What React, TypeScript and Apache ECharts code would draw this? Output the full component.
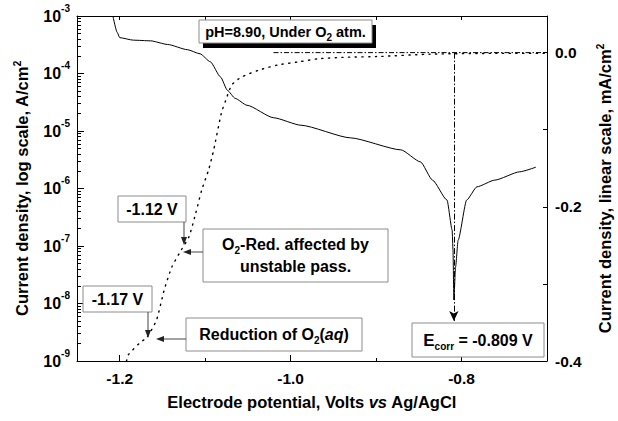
import React, { useEffect, useRef } from "react";
import * as echarts from "echarts";

const FONT = "'Liberation Sans', Arial, Helvetica, sans-serif";

// Solid curve: log-scale current density (A/cm2) vs potential (V vs Ag/AgCl)
const logPotential = [-1.208, -1.203, -1.2, -1.184, -1.164, -1.144, -1.121, -1.106, -1.094, -1.082, -1.074, -1.065, -1.051, -1.02, -0.988, -0.93, -0.871, -0.848, -0.834, -0.817, -0.811, -0.81, -0.809, -0.807, -0.804, -0.794, -0.782, -0.761, -0.732, -0.713];
const logCurrent = [1.0e-3, 5.2e-4, 4.2e-4, 3.8e-4, 3.7e-4, 3.2e-4, 2.6e-4, 2.2e-4, 1.6e-4, 8.7e-5, 5.1e-5, 3.7e-5, 2.8e-5, 1.7e-5, 1.26e-5, 7.6e-6, 4.7e-6, 2.9e-6, 1.4e-6, 6.3e-7, 1.9e-7, 8.5e-8, 1.15e-8, 4.3e-8, 1.26e-7, 6.3e-7, 1.07e-6, 1.4e-6, 1.95e-6, 2.35e-6];

// Dotted curve: linear-scale current density (mA/cm2)
const linPotential = [-1.192, -1.19, -1.177, -1.168, -1.157, -1.148, -1.139, -1.128, -1.119, -1.111, -1.104, -1.096, -1.09, -1.081, -1.076, -1.069, -1.058, -1.038, -1.015, -0.991, -0.968, -0.936, -0.896, -0.837, -0.76, -0.7];
const linCurrent = [-0.4, -0.392, -0.377, -0.369, -0.347, -0.308, -0.278, -0.256, -0.239, -0.208, -0.178, -0.152, -0.126, -0.078, -0.062, -0.042, -0.032, -0.023, -0.016, -0.012, -0.008, -0.006, -0.005, -0.002, -0.001, -0.001];

// Dash-dot baseline (linear scale)
const restPotential = [-1.02, -0.7];
const restCurrent = [0.0, 0.0];

// Corrosion potential marker
const ecorrPotential = -0.809;
const ecorrTop = 0.0;
const ecorrArrowTip = -0.348;

// Axis ticks / labels
const xRange = [-1.25, -0.7];
const xMajorTicks = [-1.2, -1.0, -0.8];
const xMinorTicks = [-1.1, -0.9];
const xTopTicks = [-1.2, -1.1, -1.0, -0.9, -0.8];
const logExpRange = [-9, -3];
const logMantissas = [2, 3, 4, 5, 6, 7, 8, 9];
const rightRange = [-0.4, 0.0475];
const rightMajorTicks = [-0.4, -0.2, 0.0];
const rightAllTicks = [-0.4, -0.3, -0.2, -0.1, 0.0];

const bold = (size: number, extra: any = {}) => ({
  fontFamily: FONT,
  fontWeight: "bold",
  fontSize: size,
  color: "#000",
  ...extra,
});

const gBox = (x: number, y: number, w: number, h: number) => ({
  type: "rect",
  shape: { x, y, width: w, height: h },
  style: { fill: "#fff", stroke: "#8c8c8c", lineWidth: 1 },
  z: 100,
  silent: true,
});
const gLine = (x1: number, y1: number, x2: number, y2: number) => ({
  type: "line",
  shape: { x1, y1, x2, y2 },
  style: { stroke: "#444", lineWidth: 1 },
  z: 100,
  silent: true,
});
const gArrowDown = (x: number, y: number) => ({
  type: "polygon",
  shape: { points: [[x, y], [x - 3, y - 8], [x + 3, y - 8]] },
  style: { fill: "#222" },
  z: 100,
  silent: true,
});
const gArrowLeft = (x: number, y: number) => ({
  type: "polygon",
  shape: { points: [[x, y], [x + 8, y - 3], [x + 8, y + 3]] },
  style: { fill: "#222" },
  z: 100,
  silent: true,
});
const richText = (size: number) => ({
  n: { fontFamily: FONT, fontWeight: "bold", fontSize: size, lineHeight: 22, fill: "#000" },
  s: { fontFamily: FONT, fontWeight: "bold", fontSize: 10, lineHeight: 10, verticalAlign: "bottom", fill: "#000" },
  i: { fontFamily: FONT, fontWeight: "bold", fontStyle: "italic", fontSize: size, lineHeight: 22, fill: "#000" },
  e: { fontFamily: FONT, fontWeight: "bold", fontSize: size + 1, lineHeight: 22, fill: "#000" },
  c: { fontFamily: FONT, fontWeight: "bold", fontSize: 10, lineHeight: 10, verticalAlign: "bottom", fill: "#000" },
});
const gText = (x: number, y: number, text: string, size = 16) => ({
  type: "text",
  x,
  y,
  z: 101,
  silent: true,
  style: {
    text,
    align: "center",
    verticalAlign: "middle",
    fontFamily: FONT,
    fontWeight: "bold",
    fontSize: size,
    fill: "#000",
    rich: richText(size),
  },
});

export default function App() {
  const ref = useRef<HTMLDivElement>(null);

  useEffect(() => {
    if (!ref.current) return;
    const chart = echarts.init(ref.current, undefined, { renderer: "svg" });

    const minorLogTicks: number[] = [];
    for (let p = logExpRange[0]; p < logExpRange[1]; p++) {
      logMantissas.forEach((m) => minorLogTicks.push(p + Math.log10(m)));
    }

    const axisLineStyle = { color: "#000", width: 1 };
    const NAME_SIZE = 16.5;

    const option: any = {
      animation: false,
      grid: { left: 77, right: 71, top: 16, bottom: 60, containLabel: false, outerBoundsMode: "none" },
      xAxis: [
        {
          type: "value",
          min: xRange[0],
          max: xRange[1],
          position: "bottom",
          axisLine: { onZero: false, lineStyle: axisLineStyle },
          axisTick: { inside: true, length: 6, customValues: xMajorTicks, lineStyle: axisLineStyle },
          axisLabel: {
            customValues: xMajorTicks,
            formatter: (v: number) => v.toFixed(1),
            margin: 9,
            ...bold(15.5),
          },
          splitLine: { show: false },
          name: "{n|Electrode potential, Volts }{i|vs}{n| Ag/AgCl}",
          nameLocation: "middle",
          nameGap: 32,
          nameTextStyle: {
            ...bold(NAME_SIZE),
            rich: {
              n: bold(NAME_SIZE),
              i: bold(NAME_SIZE, { fontStyle: "italic" }),
            },
          },
        },
        {
          type: "value",
          min: xRange[0],
          max: xRange[1],
          position: "bottom",
          axisLine: { show: false, onZero: false },
          axisTick: { inside: true, length: 3, customValues: xMinorTicks, lineStyle: axisLineStyle },
          axisLabel: { show: false },
          splitLine: { show: false },
        },
        {
          type: "value",
          min: xRange[0],
          max: xRange[1],
          position: "top",
          axisLine: { onZero: false, lineStyle: axisLineStyle },
          axisTick: { inside: true, length: 4, customValues: xTopTicks, lineStyle: axisLineStyle },
          axisLabel: { show: false },
          splitLine: { show: false },
        },
      ],
      yAxis: [
        {
          type: "log",
          logBase: 10,
          min: Math.pow(10, logExpRange[0]),
          max: Math.pow(10, logExpRange[1]),
          show: false,
          splitLine: { show: false },
        },
        {
          type: "value",
          min: rightRange[0],
          max: rightRange[1],
          position: "right",
          axisLine: { onZero: false, lineStyle: axisLineStyle },
          axisTick: { inside: true, length: 4, customValues: rightAllTicks, lineStyle: axisLineStyle },
          axisLabel: {
            customValues: rightMajorTicks,
            formatter: (v: number) => (Math.abs(v) < 1e-9 ? "0.0" : v.toFixed(1)),
            margin: 8,
            ...bold(15.5),
          },
          splitLine: { show: false },
          name: "{n|Current density, linear scale, mA/cm}{s|2}",
          nameLocation: "middle",
          nameRotate: 90,
          nameGap: 48,
          nameTextStyle: {
            ...bold(NAME_SIZE),
            rich: {
              n: bold(NAME_SIZE, { lineHeight: 19 }),
              s: bold(10, { lineHeight: 10, verticalAlign: "top" }),
            },
          },
        },
        {
          type: "value",
          min: logExpRange[0],
          max: logExpRange[1],
          interval: 1,
          position: "left",
          axisLine: { onZero: false, lineStyle: axisLineStyle },
          axisTick: { inside: true, length: 7, lineStyle: axisLineStyle },
          axisLabel: {
            margin: 7,
            formatter: (v: number) => `{b|10}{s|${v}}`,
            rich: {
              b: bold(16, { lineHeight: 26 }),
              s: bold(10, { lineHeight: 10, verticalAlign: "top" }),
            },
          },
          splitLine: { show: false },
          name: "{n|Current density, log scale, A/cm}{s|2}",
          nameLocation: "middle",
          nameRotate: 90,
          nameGap: 46,
          nameTextStyle: {
            ...bold(NAME_SIZE),
            rich: {
              n: bold(NAME_SIZE, { lineHeight: 19 }),
              s: bold(10, { lineHeight: 10, verticalAlign: "top" }),
            },
          },
        },
        {
          type: "value",
          min: logExpRange[0],
          max: logExpRange[1],
          position: "left",
          axisLine: { show: false, onZero: false },
          axisTick: { inside: true, length: 4, customValues: minorLogTicks, lineStyle: axisLineStyle },
          axisLabel: { show: false },
          splitLine: { show: false },
        },
      ],
      series: [
        {
          type: "line",
          name: "log",
          xAxisIndex: 0,
          yAxisIndex: 0,
          data: logPotential.map((e, i) => [e, logCurrent[i]]),
          symbol: "none",
          showSymbol: false,
          smooth: 0.2,
          smoothMonotone: "x",
          lineStyle: { color: "#000", width: 1 },
          silent: true,
          z: 3,
        },
        {
          type: "line",
          name: "linear",
          xAxisIndex: 0,
          yAxisIndex: 1,
          data: linPotential.map((e, i) => [e, linCurrent[i]]),
          symbol: "none",
          showSymbol: false,
          smooth: 0.2,
          lineStyle: { color: "#000", width: 1.4, type: [1.2, 5.5], cap: "round" },
          silent: true,
          z: 2,
        },
        {
          type: "line",
          name: "rest",
          xAxisIndex: 0,
          yAxisIndex: 1,
          data: restPotential.map((e, i) => [e, restCurrent[i]]),
          symbol: "none",
          showSymbol: false,
          lineStyle: { color: "#000", width: 1, type: [5, 2, 1.5, 2] },
          silent: true,
          z: 2,
          markLine: {
            silent: true,
            symbol: ["none", "arrow"],
            symbolSize: [7, 10],
            label: { show: false },
            lineStyle: { color: "#000", width: 1, type: [6, 2, 1.5, 2] },
            data: [
              [
                { coord: [ecorrPotential, ecorrTop] },
                { coord: [ecorrPotential, ecorrArrowTip] },
              ],
            ],
          },
        },
      ],
      graphic: [
        {
          type: "rect",
          shape: { x: 203, y: 25, width: 173, height: 23 },
          style: { fill: "#000" },
          z: 99,
          silent: true,
        },
        gBox(199, 20, 173, 23),
        gText(285.5, 31.5, "{n|pH=8.90, Under O}{s|2}{n| atm.}", 14.5),

        gBox(118, 196, 68, 26),
        gText(152, 209, "{n|-1.12 V}"),
        gLine(184, 222, 184, 238),
        gArrowDown(184, 245),

        gBox(203, 229, 185, 53),
        gText(295.5, 255.5, "{n|O}{s|2}{n|-Red. affected by}\n{n|unstable pass.}"),
        gLine(203, 252, 190, 252),
        gArrowLeft(183, 252),

        gBox(83, 286, 69, 26),
        gText(117.5, 299, "{n|-1.17 V}"),
        gLine(148, 312, 148, 331),
        gArrowDown(148, 338),

        gBox(186, 318, 176, 33),
        gText(274, 334.5, "{n|Reduction of O}{s|2}{n|(}{i|aq}{n|)}"),
        gLine(186, 339, 163, 339),
        gArrowLeft(156, 339),

        gBox(412, 323, 132, 34),
        gText(478, 340, "{e|E}{c|corr}{n| = -0.809 V}"),
      ],
    };

    chart.setOption(option);
    return () => chart.dispose();
  }, []);

  return (
    <div
      ref={ref}
      style={{ position: "absolute", left: 0, top: 0, width: 618, height: 421, background: "#fff" }}
    />
  );
}
